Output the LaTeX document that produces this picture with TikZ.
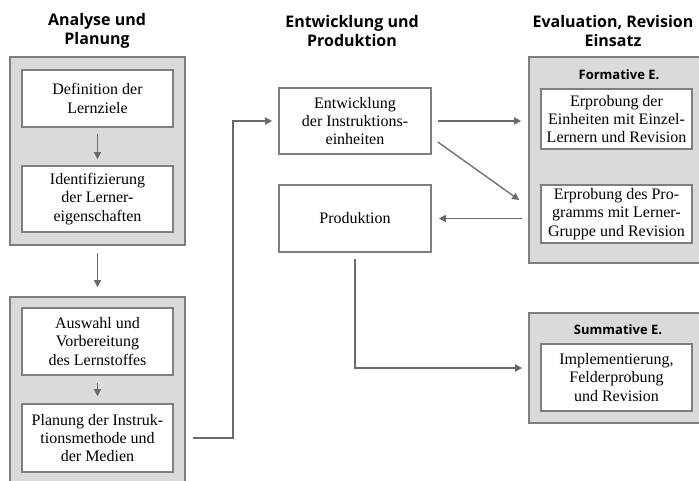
\documentclass[tikz,border=0pt]{standalone}
\usepackage{fontspec}
\setmainfont{Liberation Serif}
\newfontfamily\headfont{Open Sans}
\usetikzlibrary{arrows.meta, positioning, calc}
\definecolor{cframe}{HTML}{7F7F7F}
\definecolor{cfill}{HTML}{DADADA}
\definecolor{cline}{HTML}{6A6A6A}
\tikzset{
  every picture/.style={line width=1.3pt},
  stage/.style={draw=cframe, fill=cfill, line width=1.6pt, inner sep=0pt},
  box/.style={draw=cframe, fill=white, line width=1.6pt, align=center, inner sep=0pt, minimum width=151pt, font=\fontsize{16}{18.3}\selectfont},
  arrow/.style={-{Triangle[length=7pt,width=7pt]}, draw=cline, line width=1.3pt},
  title/.style={font=\headfont\bfseries\fontsize{16}{19}\selectfont, align=center},
  sub/.style={font=\headfont\bfseries\fontsize{13}{15}\selectfont},
}

\begin{document}
\begin{tikzpicture}[x=1pt, y=-1pt]
  \useasboundingbox (0,0) rectangle (699,480);
  \clip (0,0) rectangle (699,480);
  % column titles
  \node[title] (t1) at (97,31) {Analyse und\\Planung};
  \node[title] (t2) at (352,31) {Entwicklung und\\Produktion};
  \node[title] (t3) at (613,31) {Evaluation, Revision\\Einsatz};
  % gray stages
  \node[stage, minimum width=175pt, minimum height=188pt] (ana1) at (97.5,151) {};
  \node[stage, minimum width=175pt, minimum height=193pt] (ana2) at (97.5,393.5) {};
  \node[stage, minimum width=186pt, minimum height=206pt] (form) at (622,160) {};
  \node[stage, minimum width=186pt, minimum height=110pt] (summ) at (622,368) {};
  \node[sub] (fl) at (619,75) {Formative E.};
  \node[sub] (sl) at (618,330) {Summative E.};
  % steps
  \node[box, minimum height=57pt] (def) at (97.5,98.5) {Definition der\\Lernziele};
  \node[box, minimum height=66pt] (ident) at (97.5,199) {Identifizierung\\der Lerner-\\eigenschaften};
  \node[box, minimum height=67pt] (ausw) at (97.5,341.5) {Auswahl und\\Vorbereitung\\des Lernstoffes};
  \node[box, minimum height=68pt] (plan) at (97.5,438) {Planung der Instruk-\\tionsmethode und\\der Medien};
  \node[box, minimum width=152pt, minimum height=66pt] (entw) at (355,121) {Entwicklung\\der Instruktions-\\einheiten};
  \node[box, minimum width=152pt, minimum height=67pt] (prod) at (355,218.5) {Produktion};
  \node[box, minimum height=60pt] (erp1) at (616.5,119) {Erprobung der\\Einheiten mit Einzel-\\Lernern und Revision};
  \node[box, minimum height=58pt] (erp2) at (616.5,214) {Erprobung des Pro-\\gramms mit Lerner-\\Gruppe und Revision};
  \node[box, minimum height=67pt] (impl) at (616.5,377.5) {Implementierung,\\Felderprobung\\und Revision};
  % arrows
  \draw[arrow, shorten <=6pt, shorten >=6pt] (def) -- (ident);
  \draw[arrow, shorten <=7pt, shorten >=9pt] (ana1) -- (ana2);
  \draw[arrow, shorten <=7pt, shorten >=7pt] (ausw) -- (plan);
  \coordinate (bend) at (233,0);
  \draw[arrow, shorten <=7pt, shorten >=6pt] (plan.east -| ana2.east) -| (bend |- entw.west) -- (entw.west);
  \draw[arrow, shorten <=6pt, shorten >=7pt] (entw.east) -- (entw.east -| form.west);
  \draw[arrow] ($(entw.east)+(6,21)$) -- ($(erp2.west)+(-21,-14)$);
  \draw[arrow, shorten <=6pt, shorten >=7pt] (prod.east -| form.west) -- (prod.east);
  \draw[arrow, shorten <=6pt, shorten >=6pt] (prod.south) |- (summ.west);
\end{tikzpicture}
\end{document}
